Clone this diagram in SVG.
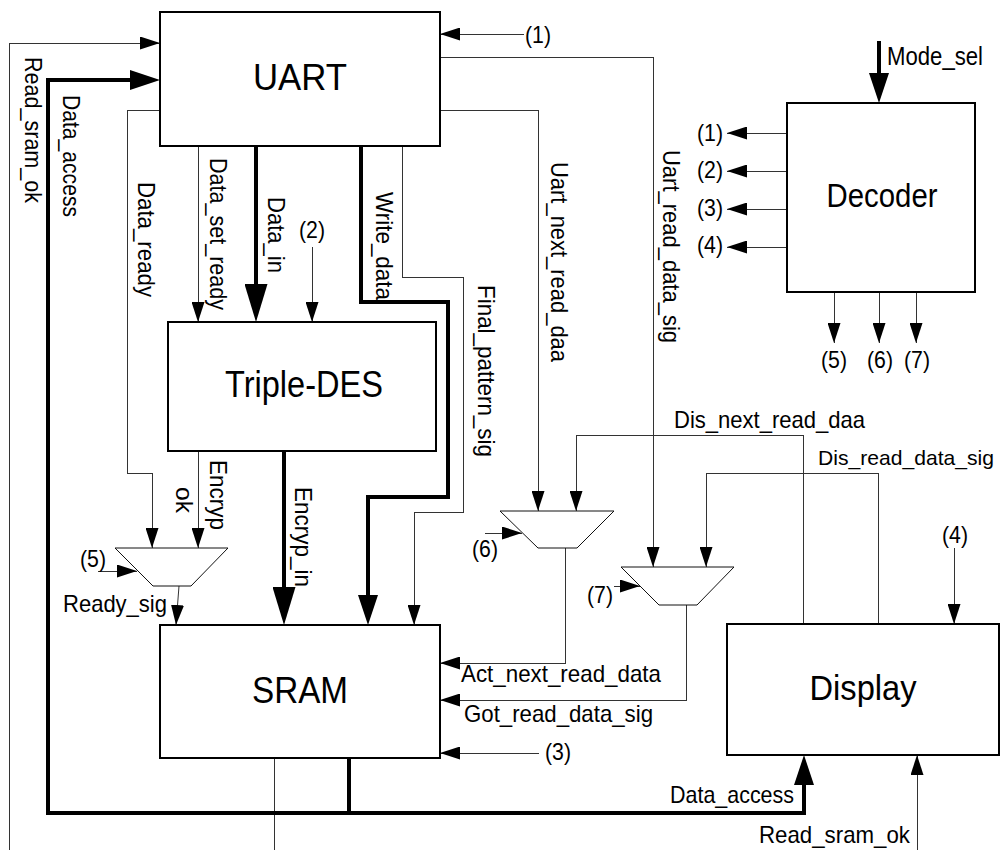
<svg xmlns="http://www.w3.org/2000/svg" width="1003" height="850" viewBox="0 0 1003 850">
<style>
text{font-family:"Liberation Sans",Arial,Helvetica,sans-serif;fill:#000}
.box{fill:#fff;stroke:#000;stroke-width:2}
.mux{fill:#fff;stroke:#111;stroke-width:1}
.t{fill:none;stroke:#333;stroke-width:1;shape-rendering:crispEdges}
.k{fill:none;stroke:#000;stroke-width:4}
.bt{font-size:37px;text-anchor:middle}
.lb{font-size:24px}
.n{font-size:24px;text-anchor:middle}
</style>
<defs>
<marker id="a" markerUnits="userSpaceOnUse" markerWidth="20" markerHeight="13" refX="20" refY="6.5" orient="auto"><path d="M0,0 L20,6.5 L0,13 z" fill="#000"/></marker>
<marker id="am" markerUnits="userSpaceOnUse" markerWidth="30" markerHeight="20" refX="24" refY="10" orient="auto"><path d="M0,0 L30,10 L0,20 z" fill="#000"/></marker>
<marker id="ab" markerUnits="userSpaceOnUse" markerWidth="38" markerHeight="23" refX="31" refY="11.5" orient="auto"><path d="M0,0 L38,11.5 L0,23 z" fill="#000"/></marker>
</defs>
<rect x="0" y="0" width="1003" height="850" fill="#fff"/>

<g id="connectors">
<path class="t" d="M9,850 V43 H160" marker-end="url(#a)"/>
<path class="t" d="M160,110 H127 V473 H152 V548" marker-end="url(#a)"/>
<path class="t" d="M198,146 V322" marker-end="url(#a)"/>
<path class="t" d="M312,247 V322" marker-end="url(#a)"/>
<path class="t" d="M402,146 V277 H463 V512 H414 V625" marker-end="url(#a)"/>
<path class="t" d="M524,34 H440" marker-end="url(#a)"/>
<path class="t" d="M440,57 H653 V567" marker-end="url(#a)"/>
<path class="t" d="M440,110 H538 V511" marker-end="url(#a)"/>
<path class="t" d="M787,133 H727" marker-end="url(#a)"/>
<path class="t" d="M787,171 H727" marker-end="url(#a)"/>
<path class="t" d="M787,209 H727" marker-end="url(#a)"/>
<path class="t" d="M787,247 H727" marker-end="url(#a)"/>
<path class="t" d="M834,292 V343" marker-end="url(#a)"/>
<path class="t" d="M879,292 V343" marker-end="url(#a)"/>
<path class="t" d="M916,292 V343" marker-end="url(#a)"/>
<path class="t" d="M198,451 V548" marker-end="url(#a)"/>
<path class="t" d="M98,571 H137" marker-end="url(#a)"/>
<path class="t" d="M179,586 L176,625" marker-end="url(#a)" style="shape-rendering:auto"/>
<path class="t" d="M485,533 H522" marker-end="url(#a)"/>
<path class="t" d="M614,586 H640" marker-end="url(#a)"/>
<path class="t" d="M565,548 V663 H440" marker-end="url(#a)"/>
<path class="t" d="M686,605 V700 H440" marker-end="url(#a)"/>
<path class="t" d="M539,753 H440" marker-end="url(#a)"/>
<path class="t" d="M803,624 V435 H576 V511" marker-end="url(#a)"/>
<path class="t" d="M878,624 V473 H706 V567" marker-end="url(#a)"/>
<path class="t" d="M954,548 V624" marker-end="url(#a)"/>
<path class="t" d="M917,850 V755" marker-end="url(#a)"/>
<path class="t" d="M274,758 V850"/>
<path class="k" d="M48,813 V80 H154" marker-end="url(#am)"/>
<path class="k" d="M46,813 H804 V761" marker-end="url(#am)"/>
<path class="k" d="M349,758 V813"/>
<path class="k" d="M256,146 V315" marker-end="url(#ab)"/>
<path class="k" d="M361,146 V302 H448 V497 H368 V619" marker-end="url(#am)"/>
<path class="k" d="M284,451 V618" marker-end="url(#ab)"/>
<path class="k" d="M879,41 V97" marker-end="url(#am)"/>
</g>

<g id="uart"><rect class="box" x="160" y="12" width="280" height="134"/><text class="bt" x="300" y="90" textLength="94" lengthAdjust="spacingAndGlyphs">UART</text></g>
<g id="triple-des"><rect class="box" x="168" y="322" width="268" height="129"/><text class="bt" x="304" y="397" textLength="158" lengthAdjust="spacingAndGlyphs">Triple-DES</text></g>
<g id="sram"><rect class="box" x="160" y="625" width="280" height="133"/><text class="bt" x="300" y="703" textLength="96" lengthAdjust="spacingAndGlyphs">SRAM</text></g>
<g id="display"><rect class="box" x="727" y="624" width="272" height="131"/><text class="bt" x="863" y="700" style="font-size:35px" textLength="107" lengthAdjust="spacingAndGlyphs">Display</text></g>
<g id="decoder"><rect class="box" x="787" y="103" width="188" height="189"/><text class="bt" x="882" y="207" style="font-size:33px" textLength="111" lengthAdjust="spacingAndGlyphs">Decoder</text></g>
<g id="mux5"><polygon class="mux" points="115,548 228,548 191,586 153,586"/></g>
<g id="mux6"><polygon class="mux" points="500,511 614,511 577,548 538,548"/></g>
<g id="mux7"><polygon class="mux" points="621,567 734,567 697,605 659,605"/></g>

<g id="labels">
<text class="lb" transform="translate(25,57) rotate(90)" textLength="146" lengthAdjust="spacingAndGlyphs">Read_sram_ok</text>
<text class="lb" transform="translate(63,95) rotate(90)" textLength="122" lengthAdjust="spacingAndGlyphs">Data_access</text>
<text class="lb" transform="translate(138,182) rotate(90)" textLength="115" lengthAdjust="spacingAndGlyphs">Data_ready</text>
<text class="lb" transform="translate(210,158) rotate(90)" textLength="152" lengthAdjust="spacingAndGlyphs">Data_set_ready</text>
<text class="lb" transform="translate(268,197) rotate(90)" textLength="76" lengthAdjust="spacingAndGlyphs">Data_in</text>
<text class="lb" transform="translate(376,192) rotate(90)" textLength="108" lengthAdjust="spacingAndGlyphs">Write_data</text>
<text class="lb" transform="translate(478,285) rotate(90)" textLength="172" lengthAdjust="spacingAndGlyphs">Final_pattern_sig</text>
<text class="lb" transform="translate(551,162) rotate(90)" textLength="200" lengthAdjust="spacingAndGlyphs">Uart_next_read_daa</text>
<text class="lb" transform="translate(663,150) rotate(90)" textLength="193" lengthAdjust="spacingAndGlyphs">Uart_read_data_sig</text>
<text class="lb" transform="translate(210,460) rotate(90)" textLength="70" lengthAdjust="spacingAndGlyphs">Encryp</text>
<text class="lb" transform="translate(176,487) rotate(90)" textLength="26" lengthAdjust="spacingAndGlyphs">ok</text>
<text class="lb" transform="translate(295,487) rotate(90)" textLength="100" lengthAdjust="spacingAndGlyphs">Encryp_in</text>
<text class="lb" x="63" y="612" textLength="104" lengthAdjust="spacingAndGlyphs">Ready_sig</text>
<text class="lb" x="461" y="682" textLength="200" lengthAdjust="spacingAndGlyphs">Act_next_read_data</text>
<text class="lb" x="464" y="722" textLength="189" lengthAdjust="spacingAndGlyphs">Got_read_data_sig</text>
<text class="lb" x="674" y="428" textLength="191" lengthAdjust="spacingAndGlyphs">Dis_next_read_daa</text>
<text class="lb" x="818" y="465" style="font-size:21px" textLength="176" lengthAdjust="spacingAndGlyphs">Dis_read_data_sig</text>
<text class="lb" x="670" y="803" textLength="124" lengthAdjust="spacingAndGlyphs">Data_access</text>
<text class="lb" x="759" y="843" textLength="151" lengthAdjust="spacingAndGlyphs">Read_sram_ok</text>
<text class="lb" x="887" y="65" style="font-size:25px" textLength="96" lengthAdjust="spacingAndGlyphs">Mode_sel</text>
<text class="n" x="538" y="43" textLength="26" lengthAdjust="spacingAndGlyphs">(1)</text>
<text class="n" x="710" y="141" textLength="26" lengthAdjust="spacingAndGlyphs">(1)</text>
<text class="n" x="710" y="178" textLength="26" lengthAdjust="spacingAndGlyphs">(2)</text>
<text class="n" x="710" y="216" textLength="26" lengthAdjust="spacingAndGlyphs">(3)</text>
<text class="n" x="710" y="253" textLength="26" lengthAdjust="spacingAndGlyphs">(4)</text>
<text class="n" x="834" y="368" textLength="26" lengthAdjust="spacingAndGlyphs">(5)</text>
<text class="n" x="880" y="368" textLength="26" lengthAdjust="spacingAndGlyphs">(6)</text>
<text class="n" x="917" y="368" textLength="26" lengthAdjust="spacingAndGlyphs">(7)</text>
<text class="n" x="312" y="238" textLength="26" lengthAdjust="spacingAndGlyphs">(2)</text>
<text class="n" x="93" y="567" textLength="26" lengthAdjust="spacingAndGlyphs">(5)</text>
<text class="n" x="485" y="557" textLength="26" lengthAdjust="spacingAndGlyphs">(6)</text>
<text class="n" x="600" y="603" textLength="26" lengthAdjust="spacingAndGlyphs">(7)</text>
<text class="n" x="955" y="543" textLength="26" lengthAdjust="spacingAndGlyphs">(4)</text>
<text class="n" x="558" y="760" textLength="26" lengthAdjust="spacingAndGlyphs">(3)</text>
</g>
</svg>
